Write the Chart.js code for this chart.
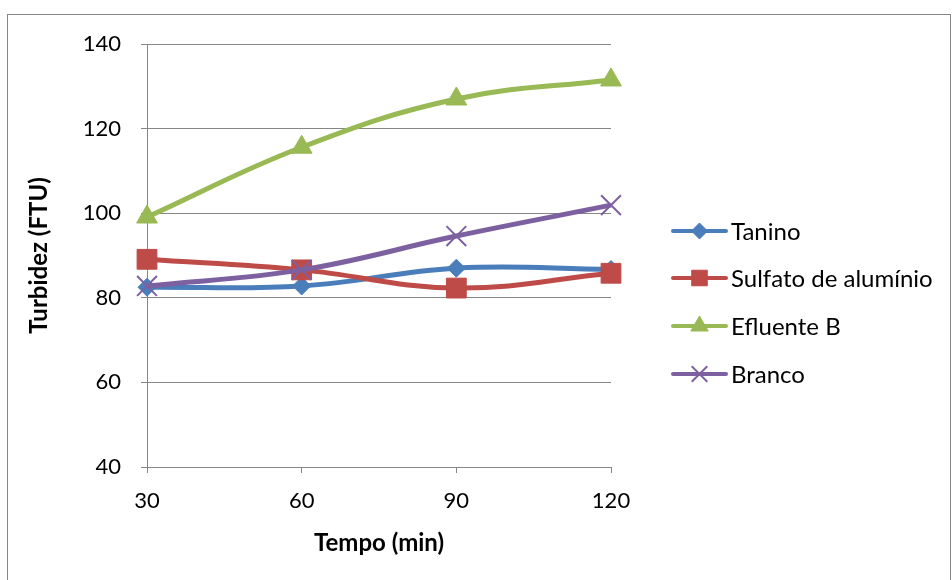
<!DOCTYPE html>
<html><head><meta charset="utf-8">
<script src="https://cdn.jsdelivr.net/npm/chart.js@4/dist/chart.umd.min.js"></script>
<style>html,body{margin:0;padding:0;background:#fff}#wrap{width:952px;height:580px;position:relative}</style>
</head><body><div id="wrap"><canvas id="c" width="952" height="580"></canvas></div>
<script>
const categories = ['30', '60', '90', '120'];
const tanino = [82.5, 82.8, 87.0, 86.7];
const sulfato = [89.1, 86.6, 82.3, 85.8];
const efluenteB = [99.1, 115.6, 127.0, 131.5];
const branco = [82.8, 86.6, 94.6, 101.9];
const seriesNames = ['Tanino', 'Sulfato de alumínio', 'Efluente B', 'Branco'];
const yTicks = [40, 60, 80, 100, 120, 140];

const FONT = 'Lato, "Liberation Sans", sans-serif';
const colors = ['#4A7EBB', '#BE4B48', '#98B954', '#7D60A0'];
const styles = [
  {pointStyle: 'rectRot', radius: 9, bw: 1},
  {pointStyle: 'rect', radius: 14, bw: 1},
  {pointStyle: 'triangle', radius: 12, bw: 1},
  {pointStyle: 'crossRot', radius: 14, bw: 2}
];
const legendStyles = [
  {radius: 8}, {radius: 11}, {radius: 10}, {radius: 11}
];
const values = [tanino, sulfato, efluenteB, branco];

const datasets = values.map((v, i) => ({
  label: seriesNames[i],
  data: v,
  borderColor: colors[i],
  backgroundColor: colors[i],
  borderWidth: 5,
  tension: 0.4,
  pointStyle: styles[i].pointStyle,
  pointRadius: styles[i].radius,
  pointBorderWidth: styles[i].bw,
  pointBorderColor: colors[i],
  pointBackgroundColor: colors[i],
  order: 4 - i
}));

const frame = {
  id: 'frame',
  beforeDraw(chart) {
    const ctx = chart.ctx;
    ctx.save();
    ctx.fillStyle = '#fff';
    ctx.fillRect(0, 0, chart.width, chart.height);
    ctx.strokeStyle = '#868686';
    ctx.lineWidth = 1;
    ctx.strokeRect(7.5, 14.5, 943, 620);
    ctx.restore();
  }
};

const excelLegend = {
  id: 'excelLegend',
  afterDraw(chart) {
    const ctx = chart.ctx;
    const rows = [231, 278, 326, 374];
    ctx.save();
    chart.data.datasets.forEach((ds, i) => {
      const y = rows[i];
      ctx.strokeStyle = ds.borderColor;
      ctx.lineWidth = 4;
      ctx.lineCap = 'round';
      ctx.beginPath();
      ctx.moveTo(673, y);
      ctx.lineTo(726, y);
      ctx.stroke();
      ctx.fillStyle = ds.backgroundColor;
      ctx.strokeStyle = ds.borderColor;
      ctx.lineWidth = ds.pointBorderWidth;
      ctx.lineCap = 'butt';
      Chart.helpers.drawPoint(ctx, {pointStyle: ds.pointStyle, radius: legendStyles[i].radius, rotation: 0, borderWidth: ds.pointBorderWidth}, 699.5, y);
      ctx.fillStyle = '#000';
      ctx.font = '24px ' + FONT;
      ctx.textBaseline = 'middle';
      ctx.textAlign = 'left';
      ctx.fillText(ds.label, 731, y + 1);
    });
    ctx.restore();
  }
};

new Chart(document.getElementById('c'), {
  type: 'line',
  data: { labels: categories, datasets },
  options: {
    responsive: false,
    animation: false,
    devicePixelRatio: 1,
    layout: { padding: { top: 44, right: 341, bottom: 0, left: 0 } },
    plugins: { legend: { display: false }, tooltip: { enabled: false } },
    scales: {
      x: {
        type: 'category',
        offset: false,
        grid: { drawOnChartArea: false, drawTicks: true, tickLength: 6, color: '#868686', lineWidth: 1 },
        border: { display: true, color: '#868686', width: 1 },
        ticks: { color: '#000', font: { family: FONT, size: 22 }, padding: 15, maxRotation: 0 },
        title: { display: true, text: 'Tempo (min)', color: '#000', font: { family: FONT, size: 24, weight: 'bold' }, padding: { top: 0, bottom: 22 } },
        afterFit(s) { s.height = 113; }
      },
      y: {
        min: 40, max: 140,
        afterBuildTicks(s) { s.ticks = yTicks.map(v => ({ value: v })); },
        grid: { drawOnChartArea: true, drawTicks: true, tickLength: 6, color: '#868686', lineWidth: 1 },
        border: { display: true, color: '#868686', width: 1 },
        ticks: { color: '#000', font: { family: FONT, size: 22 }, padding: 20 },
        title: { display: true, text: 'Turbidez (FTU)', color: '#000', font: { family: FONT, size: 24, weight: 'bold' }, padding: { top: 25, bottom: 0 } },
        afterFit(s) { s.width = 147; }
      }
    }
  },
  plugins: [frame, excelLegend]
});
</script>
</body></html>
